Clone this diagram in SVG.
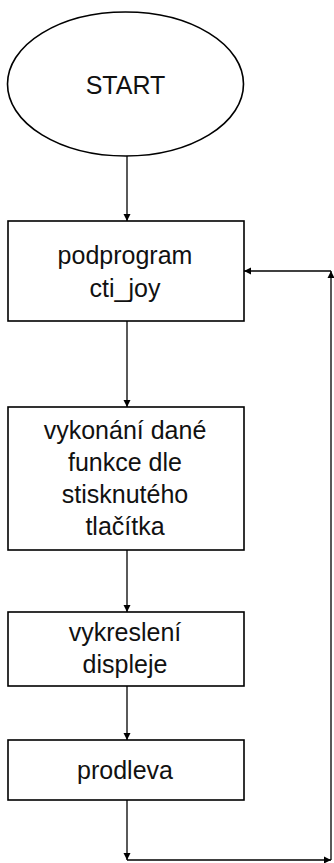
<svg xmlns="http://www.w3.org/2000/svg" width="334" height="863" viewBox="0 0 334 863">
<style>
.shape{fill:#fff;stroke:#000;stroke-width:1.6}
.lbl{font-family:"Liberation Sans",Arial,sans-serif;font-size:25px;fill:#111;text-anchor:middle}
.con{fill:none;stroke:#000;stroke-width:1.3}
</style>
<defs>
<marker id="ah" markerUnits="userSpaceOnUse" markerWidth="8" markerHeight="8" refX="7" refY="4" orient="auto">
<path d="M0,0.5 L7,4 L0,7.5 z" fill="#000"/>
</marker>
</defs>
<rect width="334" height="863" fill="#fff"/>
<g id="start">
<ellipse class="shape" cx="125.5" cy="84" rx="118" ry="72"/>
<text class="lbl" x="125.5" y="94">START</text>
</g>
<g id="cti_joy">
<rect class="shape" x="8" y="221" width="236" height="100"/>
<text class="lbl" x="125" y="264">podprogram</text>
<text class="lbl" x="125" y="297">cti_joy</text>
</g>
<g id="vykonani">
<rect class="shape" x="8" y="407" width="236" height="143"/>
<text class="lbl" x="125" y="439">vykonání dané</text>
<text class="lbl" x="125" y="471">funkce dle</text>
<text class="lbl" x="125" y="503">stisknutého</text>
<text class="lbl" x="125" y="535">tlačítka</text>
</g>
<g id="vykresleni">
<rect class="shape" x="8" y="612" width="236" height="74"/>
<text class="lbl" x="125" y="641">vykreslení</text>
<text class="lbl" x="125" y="673">displeje</text>
</g>
<g id="prodleva">
<rect class="shape" x="8" y="740" width="236" height="60"/>
<text class="lbl" x="125" y="779">prodleva</text>
</g>
<g id="connectors">
<line class="con" x1="127" y1="156" x2="127" y2="221" marker-end="url(#ah)"/>
<line class="con" x1="127" y1="321" x2="127" y2="407" marker-end="url(#ah)"/>
<line class="con" x1="127" y1="550" x2="127" y2="612" marker-end="url(#ah)"/>
<line class="con" x1="127" y1="686" x2="127" y2="740" marker-end="url(#ah)"/>
<line class="con" x1="127" y1="800" x2="127" y2="860" marker-end="url(#ah)"/>
<line class="con" x1="127" y1="860" x2="331" y2="860" marker-end="url(#ah)"/>
<line class="con" x1="331" y1="860" x2="331" y2="271" marker-end="url(#ah)"/>
<line class="con" x1="331" y1="271" x2="244" y2="271" marker-end="url(#ah)"/>
</g>
</svg>
